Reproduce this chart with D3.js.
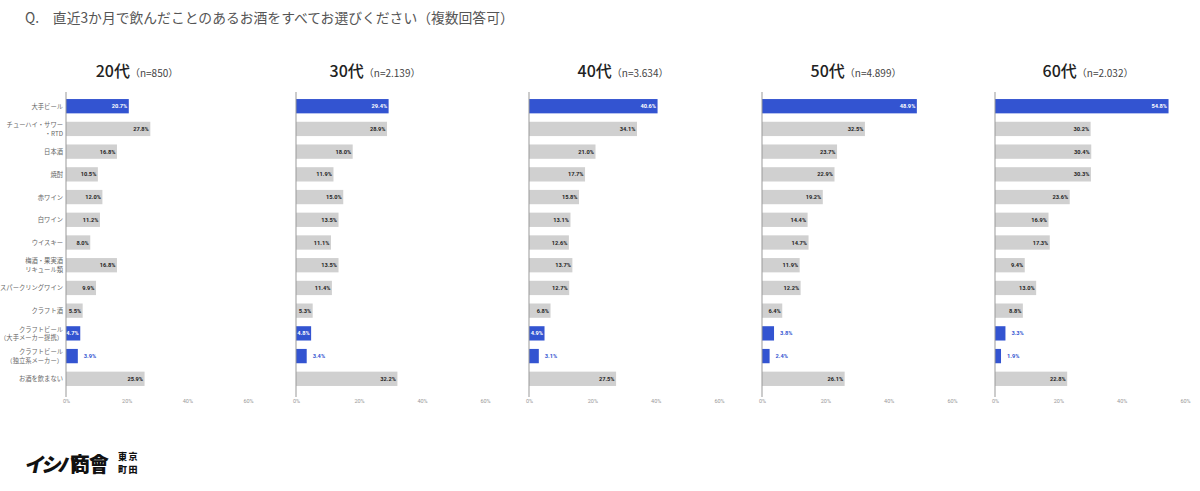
<!DOCTYPE html>
<html>
<head>
<meta charset="utf-8">
<script src="https://cdn.jsdelivr.net/npm/d3@7"></script>
<style>
  html, body { margin: 0; padding: 0; background: #fff; }
  svg { display: block; font-family: "Noto Sans CJK JP", "Noto Sans", sans-serif; }
</style>
</head>
<body>
<svg id="chart" width="1200" height="491"></svg>
<script>
// ---- data ----
const title = "Q.\u3000直近3か月で飲んだことのあるお酒をすべてお選びください（複数回答可）";
const categories = [
  "大手ビール",
  "チューハイ・サワー\n・RTD",
  "日本酒",
  "焼酎",
  "赤ワイン",
  "白ワイン",
  "ウイスキー",
  "梅酒・果実酒\nリキュール類",
  "スパークリングワイン",
  "クラフト酒",
  "クラフトビール\n（大手メーカー提携）",
  "クラフトビール\n（独立系メーカー）",
  "お酒を飲まない"
];
const highlighted = ["大手ビール", "クラフトビール\n（大手メーカー提携）", "クラフトビール\n（独立系メーカー）"];
const groups = ["20代", "30代", "40代", "50代", "60代"];
const sampleSizes = ["（n=850）", "（n=2.139）", "（n=3.634）", "（n=4.899）", "（n=2.032）"];
const values20s = [20.7, 27.8, 16.8, 10.5, 12.0, 11.2, 8.0, 16.8, 9.9, 5.5, 4.7, 3.9, 25.9];
const values30s = [29.4, 28.9, 18.0, 11.9, 15.0, 13.5, 11.1, 13.5, 11.4, 5.3, 4.8, 3.4, 32.2];
const values40s = [40.6, 34.1, 21.0, 17.7, 15.8, 13.1, 12.6, 13.7, 12.7, 6.8, 4.9, 3.1, 27.5];
const values50s = [48.9, 32.5, 23.7, 22.9, 19.2, 14.4, 14.7, 11.9, 12.2, 6.4, 3.8, 2.4, 26.1];
const values60s = [54.8, 30.2, 30.4, 30.3, 23.6, 16.9, 17.3, 9.4, 13.0, 8.8, 3.3, 1.9, 22.8];
const tickValues = [0, 20, 40, 60];

const seriesList = [values20s, values30s, values40s, values50s, values60s];

// ---- layout ----
const panelX0 = [66, 296, 529, 762, 995];
const panelX1 = [248, 485, 719, 952, 1185];
const headerCenter = [137, 375, 623, 856, 1088];
const blue = "#3354d1";
const grey = "#d0d0d0";

const svg = d3.select("#chart");

svg.append("text")
  .attr("x", 25).attr("y", 23)
  .attr("font-size", 13.8)
  .attr("fill", "#555")
  .text(title);

const y = d3.scaleBand()
  .domain(categories)
  .range([92, 393])
  .paddingInner(0.37)
  .paddingOuter(0.31);

groups.forEach((g, i) => {
  const vals = seriesList[i];
  const x = d3.scaleLinear().domain([0, 60]).range([panelX0[i], panelX1[i]]);
  const panel = svg.append("g");

  // header
  const h = panel.append("text")
    .attr("x", headerCenter[i]).attr("y", 77)
    .attr("text-anchor", "middle")
    .attr("fill", "#222");
  h.append("tspan").attr("font-size", 16).attr("font-weight", 500).text(g);
  h.append("tspan").attr("font-size", 10).attr("fill", "#444").text(sampleSizes[i]);

  // bars
  const data = categories.map((c, k) => ({ c, v: vals[k], hi: highlighted.includes(c) }));
  panel.selectAll("rect.bar").data(data).join("rect")
    .attr("class", "bar")
    .attr("x", x(0))
    .attr("y", d => y(d.c))
    .attr("width", d => x(d.v) - x(0))
    .attr("height", y.bandwidth())
    .attr("fill", d => d.hi ? blue : grey);

  // value labels
  panel.selectAll("text.val").data(data).join("text")
    .attr("class", "val")
    .attr("font-family", "Roboto, Arial, sans-serif")
    .attr("font-size", 5.7)
    .attr("font-weight", 700)
    .attr("dominant-baseline", "central")
    .attr("y", d => y(d.c) + y.bandwidth() / 2)
    .each(function(d) {
      const w = x(d.v) - x(0);
      const t = d3.select(this).text(d3.format(".1f")(d.v) + "%");
      if (w >= 13.5) {
        t.attr("x", x(d.v) - 1.5).attr("text-anchor", "end")
         .attr("fill", d.hi ? "#fff" : "#222");
      } else {
        t.attr("x", x(d.v) + 6).attr("text-anchor", "start")
         .attr("fill", blue);
      }
    });

  // axis
  const axis = d3.axisBottom(x).tickValues(tickValues).tickFormat(d => d + "%").tickSize(0).tickPadding(4);
  const ax = panel.append("g").attr("transform", "translate(0,395)").call(axis);
  ax.select(".domain").remove();
  ax.selectAll("text").attr("font-size", 5.5).attr("fill", "#999").attr("font-family", "Roboto, sans-serif");
  panel.append("line")
    .attr("x1", x(0)).attr("x2", x(0))
    .attr("y1", 92).attr("y2", 397)
    .attr("stroke", "#999").attr("stroke-width", 1);

  // category labels (first panel only)
  if (i === 0) {
    const lbl = panel.selectAll("text.cat").data(categories).join("text")
      .attr("class", "cat")
      .attr("font-size", 6.3)
      .attr("fill", "#666")
      .attr("text-anchor", "end");
    lbl.each(function(c) {
      const lines = c.split("\n");
      const cy = y(c) + y.bandwidth() / 2;
      const t = d3.select(this);
      lines.forEach((ln, li) => {
        t.append("tspan")
          .attr("x", x(0) - 3)
          .attr("y", cy + (li - (lines.length - 1) / 2) * 8.5)
          .attr("dominant-baseline", "central")
          .text(ln);
      });
    });
  }
});

// logo
const logo = svg.append("g");
logo.append("text")
  .attr("x", 24).attr("y", 472)
  .attr("font-size", 20).attr("font-weight", 900)
  .attr("fill", "#111")
  .attr("transform", "skewX(-12) translate(100,0)")
  .attr("letter-spacing", -3)
  .text("イシハ");
logo.append("text")
  .attr("x", 70).attr("y", 472)
  .attr("font-size", 20).attr("font-weight", 900)
  .attr("fill", "#111")
  .attr("letter-spacing", -1)
  .text("商會");
logo.append("text")
  .attr("x", 118).attr("y", 460)
  .attr("font-size", 9).attr("font-weight", 900)
  .attr("fill", "#111").attr("letter-spacing", 1.5)
  .text("東京");
logo.append("text")
  .attr("x", 118).attr("y", 473)
  .attr("font-size", 9).attr("font-weight", 900)
  .attr("fill", "#111").attr("letter-spacing", 1.5)
  .text("町田");
</script>
</body>
</html>
